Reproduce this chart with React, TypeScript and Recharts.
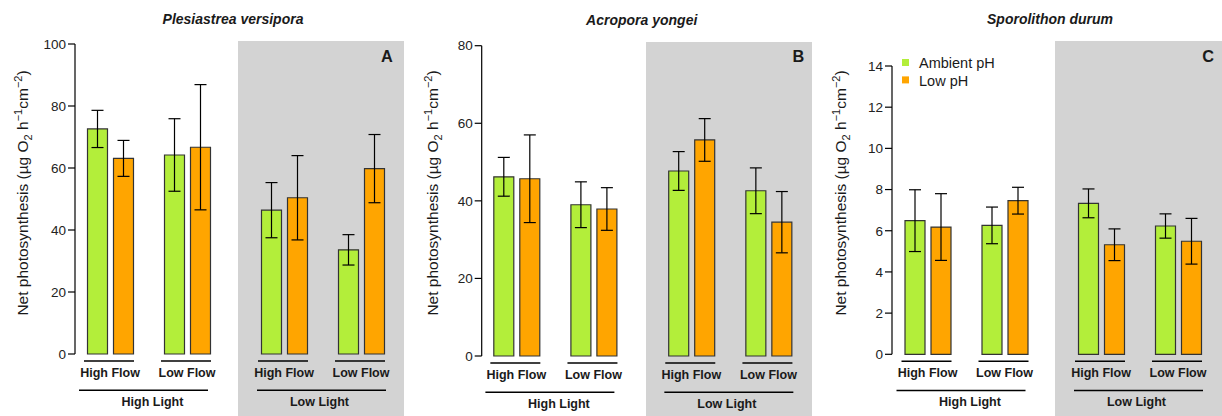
import React from 'react';
import { BarChart, Bar, XAxis, YAxis, ErrorBar, Label, Legend } from 'recharts';

const GREEN = '#b3ee3a';
const ORANGE = '#ffa500';
const GRAY = '#d3d3d3';
const INK = '#1a1a1a';
const H = 416;

const flowLevels = ['High Flow', 'Low Flow'];
const lightLevels = ['High Light', 'Low Light'];
const phLevels = ['Ambient pH', 'Low pH'];
const speciesNames = ['Plesiastrea versipora', 'Acropora yongei', 'Sporolithon durum'];
const panelLetters = ['A', 'B', 'C'];

// means and SE, order: HL-HF, HL-LF, LL-HF, LL-LF
const pvAmbient = [72.6, 64.2, 46.4, 33.6];
const pvAmbientSe = [6.0, 11.7, 8.9, 4.9];
const pvLow = [63.1, 66.7, 50.4, 59.8];
const pvLowSe = [5.8, 20.2, 13.6, 11.0];

const ayAmbient = [46.2, 39.0, 47.7, 42.6];
const ayAmbientSe = [5.0, 5.9, 5.0, 5.9];
const ayLow = [45.7, 37.9, 55.7, 34.5];
const ayLowSe = [11.3, 5.5, 5.5, 7.9];

const sdAmbient = [6.49, 6.26, 7.33, 6.23];
const sdAmbientSe = [1.5, 0.89, 0.7, 0.59];
const sdLow = [6.18, 7.46, 5.32, 5.49];
const sdLowSe = [1.62, 0.65, 0.77, 1.11];

const pvTicks = [0, 20, 40, 60, 80, 100];
const ayTicks = [0, 20, 40, 60, 80];
const sdTicks = [0, 2, 4, 6, 8, 10, 12, 14];

const panelData = [
  { amb: pvAmbient, ambSe: pvAmbientSe, low: pvLow, lowSe: pvLowSe, ticks: pvTicks },
  { amb: ayAmbient, ambSe: ayAmbientSe, low: ayLow, lowSe: ayLowSe, ticks: ayTicks },
  { amb: sdAmbient, ambSe: sdAmbientSe, low: sdLow, lowSe: sdLowSe, ticks: sdTicks },
];

// pixel layout of each panel
const layouts = [
  { x0: 0, split: 238, x1: 404, axisX: 75, top: 44, bottom: 354, bgTop: 41, yLabelX: 27.7,
    leftRange: [71.5, 225.5], rightRange: [245.5, 399.5], titleX: 233, titleY: 24, letterX: 387, letterY: 61.7 },
  { x0: 410, split: 646, x1: 812, axisX: 481.7, top: 45.7, bottom: 356, bgTop: 42, yLabelX: 437.7,
    leftRange: [477.8, 632], rightRange: [652.7, 807], titleX: 641.7, titleY: 25, letterX: 798.3, letterY: 62 },
  { x0: 812, split: 1055, x1: 1222, axisX: 892, top: 66, bottom: 354.3, bgTop: 41, yLabelX: 846.3,
    leftRange: [889, 1043], rightRange: [1062.5, 1216.5], titleX: 1050, titleY: 24, letterX: 1208.2, letterY: 61.7 },
];

function halfRows(p: any, lightIdx: number) {
  return flowLevels.map((flow, i) => {
    const k = lightIdx * 2 + i;
    return { flow, ambient: p.amb[k], ambientSe: p.ambSe[k], low: p.low[k], lowSe: p.lowSe[k] };
  });
}

const yLabel = (cx: number) => () => (
  <text transform={`translate(${cx},193) rotate(-90)`} textAnchor="middle" fontSize={15.5} fill={INK}>
    Net photosynthesis (µg O<tspan fontSize={11} dy={4}>2</tspan>
    <tspan dy={-4}> h</tspan>
    <tspan fontSize={11} dy={-6}>−1</tspan>
    <tspan dy={6}>cm</tspan>
    <tspan fontSize={11} dy={-6}>−2</tspan>
    <tspan dy={6}>)</tspan>
  </text>
);

function LegendBox(props: any) {
  const items = props.payload || [];
  return (
    <svg width={130} height={36} style={{ display: 'block', overflow: 'visible' }}>
      {items.map((it: any, i: number) => (
        <g key={i}>
          <rect x={0} y={i * 17.4} width={7} height={7} fill={it.color || (it.payload && it.payload.fill)} />
          <text x={17} y={i * 17.4 + 9.2} fontSize={14.5} fill={INK}>{it.value}</text>
        </g>
      ))}
    </svg>
  );
}

function Half(props: any) {
  const { rows, x0, x1, axisX, range, top, bottom, ticks, light, lineSpan, labelShift, yLabelX, legend } = props;
  const w = x1 - x0;
  const plotLeft = axisX != null ? axisX - x0 : 0;
  const padL = range[0] - x0 - plotLeft;
  const padR = x1 - range[1];
  const domain = [0, ticks[ticks.length - 1]];
  const band = (range[1] - range[0]) / 2;

  const renderTick = (p: any) => {
    const { x, index, payload } = p;
    const mid = x + band / 2;
    return (
      <g>
        <line x1={x - 26} x2={x + 24} y1={bottom + 7} y2={bottom + 7} stroke="#000" strokeWidth={1.5} />
        <text x={x} y={bottom + 22.7} textAnchor="middle" fontSize={12.5} fontWeight="bold" fill={INK}>
          {payload.value}
        </text>
        {index === 0 && (
          <g>
            <line x1={mid + lineSpan[0]} x2={mid + lineSpan[1]} y1={bottom + 36.3} y2={bottom + 36.3} stroke="#000" strokeWidth={1.5} />
            <text x={mid + labelShift} y={bottom + 52} textAnchor="middle" fontSize={12.5} fontWeight="bold" fill={INK}>
              {light}
            </text>
          </g>
        )}
      </g>
    );
  };

  return (
    <div style={{ position: 'absolute', left: x0, top: 0 }}>
      <BarChart width={w} height={H} data={rows} margin={{ top, right: 0, bottom: 0, left: 0 }} barSize={20} barGap={6}>
        <XAxis
          dataKey="flow"
          height={H - bottom}
          axisLine={false}
          tickLine={false}
          tick={renderTick}
          interval={0}
          padding={{ left: padL, right: padR }}
        />
        {axisX != null ? (
          <YAxis
            width={plotLeft}
            domain={domain}
            ticks={ticks}
            interval={0}
            tickSize={7}
            tickMargin={2}
            axisLine={{ stroke: '#000', strokeWidth: 1.2 }}
            tickLine={{ stroke: '#000', strokeWidth: 1.2 }}
            tick={{ fontSize: 13.5, fill: '#222' }}
          >
            <Label content={yLabel(yLabelX - x0)} />
          </YAxis>
        ) : (
          <YAxis hide domain={domain} ticks={ticks} />
        )}
        <Bar dataKey="ambient" name={phLevels[0]} fill={GREEN} stroke="#333" strokeWidth={1.2} isAnimationActive={false}>
          <ErrorBar dataKey="ambientSe" width={6} stroke="#000" strokeWidth={1.2} direction="y" />
        </Bar>
        <Bar dataKey="low" name={phLevels[1]} fill={ORANGE} stroke="#333" strokeWidth={1.2} isAnimationActive={false}>
          <ErrorBar dataKey="lowSe" width={6} stroke="#000" strokeWidth={1.2} direction="y" />
        </Bar>
        {legend && (
          <Legend
            layout="vertical"
            align="center"
            verticalAlign="middle"
            wrapperStyle={{ left: 90, top: 59.3, width: 130, height: 36, overflow: 'visible' }}
            content={LegendBox}
          />
        )}
      </BarChart>
    </div>
  );
}

export default function App() {
  return (
    <div
      style={{
        position: 'absolute',
        left: 0,
        top: 0,
        width: 1222,
        height: H,
        background: '#fff',
        overflow: 'hidden',
        fontFamily: '"Liberation Sans", Arial, sans-serif',
      }}
    >
      {layouts.map((l, i) => (
        <div
          key={'bg' + i}
          style={{ position: 'absolute', left: l.split, top: l.bgTop, width: l.x1 - l.split, height: H - l.bgTop, background: GRAY }}
        />
      ))}
      {layouts.map((l, i) => (
        <React.Fragment key={'p' + i}>
          <Half
            rows={halfRows(panelData[i], 0)}
            x0={l.x0}
            x1={l.split}
            axisX={l.axisX}
            range={l.leftRange}
            top={l.top}
            bottom={l.bottom}
            ticks={panelData[i].ticks}
            light={lightLevels[0]}
            lineSpan={[-69.5, 59.5]}
            labelShift={4}
            yLabelX={l.yLabelX}
            legend={i === 2}
          />
          <Half
            rows={halfRows(panelData[i], 1)}
            x0={l.split}
            x1={l.x1}
            range={l.rightRange}
            top={l.top}
            bottom={l.bottom}
            ticks={panelData[i].ticks}
            light={lightLevels[1]}
            lineSpan={[-65.5, 63.5]}
            labelShift={-3}
          />
        </React.Fragment>
      ))}
      <svg width={1222} height={H} style={{ position: 'absolute', left: 0, top: 0, pointerEvents: 'none' }}>
        {layouts.map((l, i) => (
          <g key={'t' + i}>
            <text x={l.titleX} y={l.titleY} textAnchor="middle" fontSize={14} fontWeight="bold" fontStyle="italic" fill={INK}>
              {speciesNames[i]}
            </text>
            <text x={l.letterX} y={l.letterY} textAnchor="middle" fontSize={16.3} fontWeight="bold" fill={INK}>
              {panelLetters[i]}
            </text>
          </g>
        ))}
      </svg>
    </div>
  );
}
